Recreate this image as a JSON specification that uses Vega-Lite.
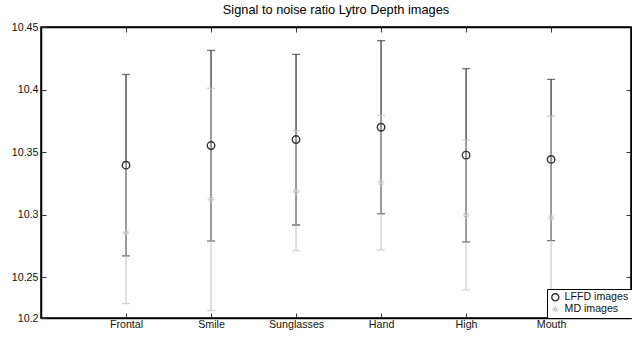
{
  "$schema": "https://vega.github.io/schema/vega-lite/v6.json",
  "width": 590,
  "height": 291,
  "autosize": {"type": "none"},
  "padding": {"left": 41, "top": 27, "right": 1, "bottom": 40},
  "background": "white",
  "title": {"text": "Signal to noise ratio Lytro Depth images", "fontSize": 12.8, "font": "Liberation Sans", "fontWeight": "normal", "color": "black", "offset": 4, "anchor": "middle"},
  "config": {
    "view": {"stroke": "black", "strokeWidth": 1.5},
    "font": "Liberation Sans",
    "axis": {"grid": false, "domainColor": "black", "domainWidth": 1.5, "tickColor": "#333333", "tickSize": -5, "labelColor": "#111111", "labelFontSize": 10.7, "labelFont": "Liberation Sans", "title": null}
  },
  "data": {"values": [
    {"cat": "Frontal", "idx": 1, "series": "LFFD images", "mean": 10.3396, "lo": 10.2671, "hi": 10.4121},
    {"cat": "Smile", "idx": 2, "series": "LFFD images", "mean": 10.3553, "lo": 10.2790, "hi": 10.4313},
    {"cat": "Sunglasses", "idx": 3, "series": "LFFD images", "mean": 10.3601, "lo": 10.2918, "hi": 10.4282},
    {"cat": "Hand", "idx": 4, "series": "LFFD images", "mean": 10.3699, "lo": 10.3008, "hi": 10.4391},
    {"cat": "High", "idx": 5, "series": "LFFD images", "mean": 10.3476, "lo": 10.2782, "hi": 10.4167},
    {"cat": "Mouth", "idx": 6, "series": "LFFD images", "mean": 10.3442, "lo": 10.2793, "hi": 10.4082},
    {"cat": "Frontal", "idx": 1, "series": "MD images", "mean": 10.2857, "lo": 10.2290, "hi": 10.3424},
    {"cat": "Smile", "idx": 2, "series": "MD images", "mean": 10.3123, "lo": 10.2235, "hi": 10.4010},
    {"cat": "Sunglasses", "idx": 3, "series": "MD images", "mean": 10.3189, "lo": 10.2713, "hi": 10.3670},
    {"cat": "Hand", "idx": 4, "series": "MD images", "mean": 10.3255, "lo": 10.2719, "hi": 10.3793},
    {"cat": "High", "idx": 5, "series": "MD images", "mean": 10.2998, "lo": 10.2400, "hi": 10.3596},
    {"cat": "Mouth", "idx": 6, "series": "MD images", "mean": 10.2976, "lo": 10.2165, "hi": 10.3787}
  ]},
  "resolve": {"axis": {"x": "independent", "y": "independent"}},
  "layer": [
    {
      "transform": [{"filter": "datum.series === 'LFFD images'"}],
      "mark": {"type": "rule", "color": "#3a3a3a", "strokeWidth": 1.3, "clip": true},
      "encoding": {
        "x": {"field": "idx", "type": "quantitative", "scale": {"domain": [0, 6.94], "nice": false, "zero": false},
          "axis": {"orient": "bottom", "values": [1, 2, 3, 4, 5, 6], "labelExpr": "['', 'Frontal', 'Smile', 'Sunglasses', 'Hand', 'High', 'Mouth'][datum.value]", "labelPadding": 6}},
        "y": {"field": "lo", "type": "quantitative", "scale": {"domain": [10.2175, 10.45], "nice": false, "zero": false},
          "axis": {"orient": "left", "values": [10.2175, 10.25, 10.3, 10.35, 10.4, 10.45], "format": ".4~g", "labelExpr": "datum.value < 10.22 ? '10.2' : datum.label", "labelPadding": 8}},
        "y2": {"field": "hi"}
      }
    },
    {
      "mark": {"type": "point", "opacity": 0},
      "encoding": {
        "x": {"field": "idx", "type": "quantitative", "axis": {"orient": "top", "values": [1, 2, 3, 4, 5, 6], "labels": false}},
        "y": {"field": "mean", "type": "quantitative", "axis": {"orient": "right", "values": [10.25, 10.3, 10.35, 10.4], "labels": false}}
      }
    },
    {
      "transform": [{"filter": "datum.series === 'LFFD images'"}],
      "mark": {"type": "tick", "orient": "horizontal", "color": "#3a3a3a", "size": 8, "thickness": 1.3, "clip": true},
      "encoding": {"x": {"field": "idx", "type": "quantitative", "axis": null}, "y": {"field": "lo", "type": "quantitative", "axis": null}}
    },
    {
      "transform": [{"filter": "datum.series === 'LFFD images'"}],
      "mark": {"type": "tick", "orient": "horizontal", "color": "#3a3a3a", "size": 8, "thickness": 1.3, "clip": true},
      "encoding": {"x": {"field": "idx", "type": "quantitative", "axis": null}, "y": {"field": "hi", "type": "quantitative", "axis": null}}
    },
    {
      "transform": [{"filter": "datum.series === 'MD images'"}],
      "mark": {"type": "rule", "color": "#bcbcbc", "opacity": 0.72, "strokeWidth": 1.3, "clip": true},
      "encoding": {"x": {"field": "idx", "type": "quantitative", "axis": null}, "y": {"field": "lo", "type": "quantitative", "axis": null}, "y2": {"field": "hi"}}
    },
    {
      "transform": [{"filter": "datum.series === 'MD images'"}],
      "mark": {"type": "tick", "orient": "horizontal", "color": "#c4c4c4", "size": 8, "thickness": 1.3, "clip": true},
      "encoding": {"x": {"field": "idx", "type": "quantitative", "axis": null}, "y": {"field": "lo", "type": "quantitative", "axis": null}}
    },
    {
      "transform": [{"filter": "datum.series === 'MD images'"}],
      "mark": {"type": "tick", "orient": "horizontal", "color": "#c4c4c4", "size": 8, "thickness": 1.3, "clip": true},
      "encoding": {"x": {"field": "idx", "type": "quantitative", "axis": null}, "y": {"field": "hi", "type": "quantitative", "axis": null}}
    },
    {
      "mark": {"type": "point", "filled": false, "size": 56, "opacity": 1},
      "encoding": {
        "x": {"field": "idx", "type": "quantitative", "axis": null},
        "y": {"field": "mean", "type": "quantitative", "axis": null},
        "strokeWidth": {"field": "series", "type": "nominal", "scale": {"domain": ["LFFD images", "MD images"], "range": [1.4, 1]}, "legend": null},
        "color": {"field": "series", "type": "nominal", "scale": {"domain": ["LFFD images", "MD images"], "range": ["#333333", "#c4c4c4"]},
          "legend": {"title": null, "orient": "none", "legendX": 506, "legendY": 262, "strokeColor": "black", "fillColor": "white", "padding": 3, "labelFontSize": 10.6, "labelFont": "Liberation Sans", "labelColor": "#111111", "symbolSize": 50, "symbolStrokeWidth": 1.2, "rowPadding": 0, "labelOffset": 4, "symbolOffset": 0}},
        "shape": {"field": "series", "type": "nominal", "scale": {"domain": ["LFFD images", "MD images"], "range": ["circle", "M-0.9,0L0.9,0M0,-0.9L0,0.9M-0.65,-0.65L0.65,0.65M-0.65,0.65L0.65,-0.65"]}}
      }
    }
  ]
}
